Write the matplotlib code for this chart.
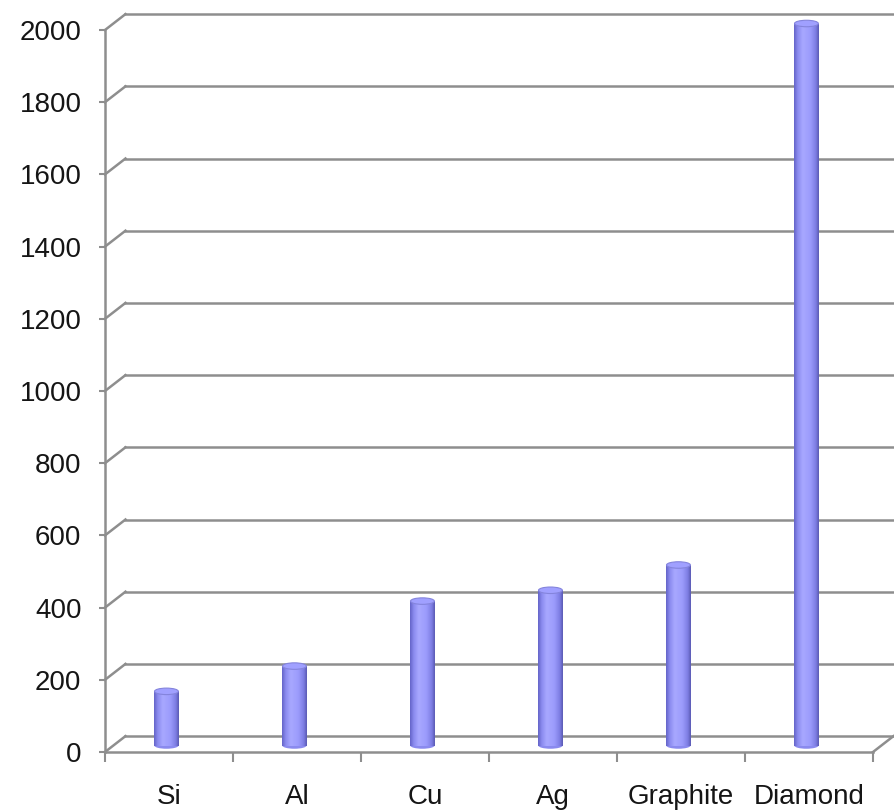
import numpy as np
import matplotlib
matplotlib.use('Agg')
import matplotlib.pyplot as plt
from matplotlib.colors import LinearSegmentedColormap
from matplotlib.patches import Ellipse

# thermal conductivity values per material
materials = ['Si', 'Al', 'Cu', 'Ag', 'Graphite', 'Diamond']
values = [150, 220, 400, 430, 500, 2000]
yticks = list(range(0, 2001, 200))

plt.rcParams['font.family'] = ['Liberation Sans', 'DejaVu Sans']

#------------------------------------------------------------------------------
# fake 3D depth: back wall is shifted right/up relative to the front plane
DX = 0.16     # in category units (~20 px)
DY = 44       # in value units (~16 px)
GREY = '#8e8e8e'
TXT = '#151515'

fig = plt.figure(figsize=(8.95, 8.11), dpi=100)
ax = fig.add_axes([105 / 895, 1 - 752 / 811, 768 / 895, 722 / 811])
ax.set_xlim(0, len(materials))
ax.set_ylim(0, 2000)

for s in ['top', 'right']:
    ax.spines[s].set_visible(False)
for s in ['left', 'bottom']:
    ax.spines[s].set_color(GREY)
    ax.spines[s].set_linewidth(1.8)

# back wall gridlines + the slanted edge on the left wall
n = len(materials)
for v in yticks:
    ax.plot([DX, n + DX], [v + DY, v + DY], color=GREY, lw=1.8, clip_on=False, zorder=1)
    ax.plot([0, DX], [v, v + DY], color=GREY, lw=1.8, clip_on=False, zorder=1)
# right edge of the floor
ax.plot([n, n + DX], [0, DY], color=GREY, lw=1.8, clip_on=False, zorder=1)

# ticks
ax.set_yticks(yticks)
ax.tick_params(axis='y', length=4, width=1.5, color=GREY, pad=13,
               labelsize=20, labelcolor=TXT)
ax.set_xticks(np.arange(n + 1))
ax.set_xticklabels([])
ax.set_xticks(np.arange(n) + 0.5, minor=True)
ax.set_xticklabels(materials, minor=True)
ax.tick_params(axis='x', which='major', length=7, width=1.5, color=GREY)
ax.tick_params(axis='x', which='minor', length=0, pad=23, labelsize=20, labelcolor=TXT)

#------------------------------------------------------------------------------
# cylinders
cmap = LinearSegmentedColormap.from_list('cyl', [
    (0.0, '#6464c8'), (0.15, '#8c8cf0'), (0.35, '#a8a8ff'),
    (0.65, '#9c9cfc'), (0.88, '#7e7ee4'), (1.0, '#5a5ab4')])
grad = np.linspace(0, 1, 64).reshape(1, -1)

bw = 0.19
base = DY / 2 - 4
xpos = np.arange(n) + 0.5 - 0.02
bars = ax.bar(xpos, values, width=bw, bottom=base, color='none', zorder=3)
cap_h = 18

for b, v in zip(bars, values):
    x0, y0 = b.get_x(), b.get_y()
    w, h = b.get_width(), b.get_height()
    # rounded bottom
    ax.add_patch(Ellipse((x0 + w / 2, y0), w, cap_h, facecolor='#8a8aee',
                         edgecolor='none', zorder=3))
    im = ax.imshow(grad, cmap=cmap, aspect='auto', extent=(x0, x0 + w, y0, y0 + h),
                   zorder=4, interpolation='bicubic')
    im.set_clip_path(b)
    # top cap
    ax.add_patch(Ellipse((x0 + w / 2, y0 + h), w * 0.98, cap_h, facecolor='#a0a0ff',
                         edgecolor='#8484dc', lw=0.8, zorder=5, clip_on=False))

ax.set_xlim(0, n)
ax.set_ylim(0, 2000)

fig.savefig('out.png', dpi=100)
